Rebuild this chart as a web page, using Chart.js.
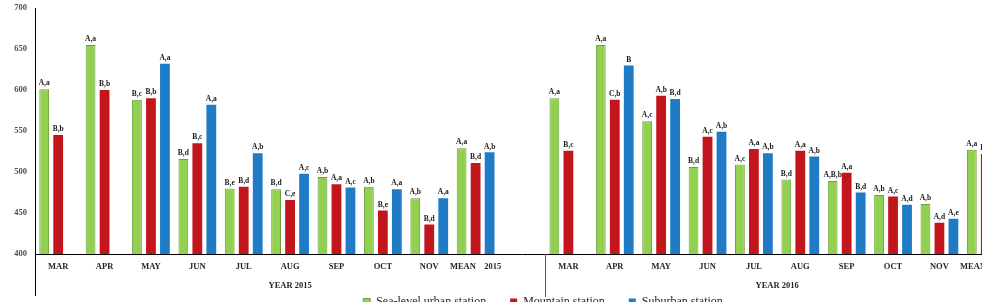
<!DOCTYPE html>
<html>
<head>
<meta charset="utf-8">
<script src="https://cdn.jsdelivr.net/npm/chart.js@4/dist/chart.umd.min.js"></script>
<style>
  html, body { margin: 0; padding: 0; background: #fff; }
  #frame { position: relative; width: 982px; height: 302px; overflow: hidden; }
  #wrap { position: absolute; left: -11px; top: 0; width: 1040px; height: 318px; }
</style>
</head>
<body>
<div id="frame"><div id="wrap"><canvas id="co2Chart"></canvas></div></div>
<script>
const months = ["MAR", "APR", "MAY", "JUN", "JUL", "AUG", "SEP", "OCT", "NOV"];
const labels = [...months, "MEAN    2015", "", ...months, "MEAN    2016"];
const groups = ["YEAR 2015", "YEAR 2016"];
const yTicks = [400, 450, 500, 550, 600, 650, 700];

const seaLevel = [601, 655, 588, 516, 480, 479, 494, 482, 468, 529, null,
                  590, 655, 562, 506, 509, 491, 489, 472, 461, 527];
const mountain = [545, 600, 590, 535, 482, 466, 485, 453, 436, 511, null,
                  526, 588, 593, 543, 528, 526, 499, 470, 438, 522];
const suburban = [null, null, 632, 582, 523, 498, 481, 479, 468, 524, null,
                  null, 630, 589, 549, 523, 519, 475, 460, 443, 520];

const seaLevelLetters = ["A,a", "A,a", "B,c", "B,d", "B,e", "B,d", "A,b", "A,b", "A,b", "A,a", "",
                         "A,a", "A,a", "A,c", "B,d", "A,c", "B,d", "A,B,b", "A,b", "A,b", "A,a"];
const mountainLetters = ["B,b", "B,b", "B,b", "B,c", "B,d", "C,e", "A,a", "B,e", "B,d", "B,d", "",
                         "B,c", "C,b", "A,b", "A,c", "A,a", "A,a", "A,a", "A,c", "A,d", "B,b"];
const suburbanLetters = ["", "", "A,a", "A,a", "A,b", "A,c", "A,c", "A,a", "A,a", "A,b", "",
                         "", "B", "B,d", "A,b", "A,b", "A,b", "B,d", "A,d", "A,e", "A,b"];

Chart.defaults.font.family = "'Liberation Serif', serif";

// letters over bars, long axis lines and the year captions
const extras = {
    id: "extras",
    afterLayout(chart) {
        // legend sits a bit right of the canvas centre in the original
        chart.legend.left += 44;
        chart.legend.right += 44;
    },
    afterDatasetsDraw(chart) {
        const { ctx, chartArea } = chart;
        const x = chart.scales.x;
        ctx.save();
        ctx.font = "bold 7.5px 'Liberation Serif'";
        ctx.textAlign = "center";
        ctx.textBaseline = "bottom";
        ctx.fillStyle = "#1a1a1a";
        chart.data.datasets.forEach((ds, i) => {
            chart.getDatasetMeta(i).data.forEach((bar, j) => {
                const t = ds.letters[j];
                if (t && ds.data[j] != null) ctx.fillText(t, bar.x, bar.y - 2);
            });
        });

        const sep = (x.getPixelForValue(10) + x.getPixelForValue(11)) / 2;
        ctx.strokeStyle = "#000";
        ctx.lineWidth = 1;
        ctx.beginPath();
        ctx.moveTo(x.left + 0.5, chartArea.bottom);
        ctx.lineTo(x.left + 0.5, chartArea.bottom + 42);
        ctx.stroke();
        ctx.strokeStyle = "#555";
        ctx.beginPath();
        ctx.moveTo(Math.round(sep) + 0.5, chartArea.bottom);
        ctx.lineTo(Math.round(sep) + 0.5, chartArea.bottom + 43);
        ctx.stroke();

        ctx.font = "bold 8.5px 'Liberation Serif'";
        ctx.textBaseline = "middle";
        ctx.fillStyle = "#262626";
        ctx.fillText(groups[0], (x.left + sep) / 2, chartArea.bottom + 32);
        ctx.fillText(groups[1], (sep + x.right) / 2, chartArea.bottom + 32);
        ctx.restore();
    }
};

const data = {
    labels: labels,
    datasets: [
        {
            label: "Sea-level urban station",
            data: seaLevel,
            letters: seaLevelLetters,
            backgroundColor: "#92D050",
            borderColor: "#6E9E3A",
            borderWidth: 1,
        },
        {
            label: "Mountain station",
            data: mountain,
            letters: mountainLetters,
            backgroundColor: "#C3161C",
            borderWidth: 0,
        },
        {
            label: "Suburban station",
            data: suburban,
            letters: suburbanLetters,
            backgroundColor: "#1F7BC6",
            borderWidth: 0,
        },
    ],
};

const config = {
    type: "bar",
    data: data,
    options: {
        responsive: true,
        maintainAspectRatio: false,
        animation: false,
        layout: { padding: { top: 8, right: 20, bottom: 0, left: 0 } },
        datasets: {
            bar: { categoryPercentage: 0.905, barPercentage: 0.7 },
        },
        scales: {
            x: {
                grid: { display: false, drawTicks: false },
                border: { display: true, color: "#000", width: 1 },
                ticks: {
                    autoSkip: false,
                    maxRotation: 0,
                    padding: 8,
                    color: "#262626",
                    font: { size: 8.5, weight: "bold" },
                },
                afterFit(scale) { scale.height = 18; },
            },
            y: {
                min: 400,
                max: 700,
                afterBuildTicks(scale) { scale.ticks = yTicks.map(v => ({ value: v })); },
                grid: { display: false, drawTicks: false },
                border: { display: true, color: "#000", width: 1 },
                ticks: {
                    padding: 8,
                    color: "#505050",
                    font: { size: 8.5, weight: "bold" },
                },
                title: {
                    display: true,
                    text: "CO\u2082 concentration (ppm)",
                    color: "#5b8fc9",
                    font: { size: 10, weight: "bold" },
                    padding: { top: 0, bottom: 0 },
                },
                afterFit(scale) {
                    scale.width = 46;
                    scale.paddingTop = 0;
                    scale.paddingBottom = 0;
                },
            },
        },
        plugins: {
            legend: {
                position: "bottom",
                labels: {
                    boxWidth: 7,
                    boxHeight: 7,
                    padding: 24,
                    color: "#262626",
                    font: { size: 12 },
                },
            },
            tooltip: { enabled: false },
        },
    },
    plugins: [extras],
};

new Chart(document.getElementById("co2Chart"), config);
</script>
</body>
</html>
